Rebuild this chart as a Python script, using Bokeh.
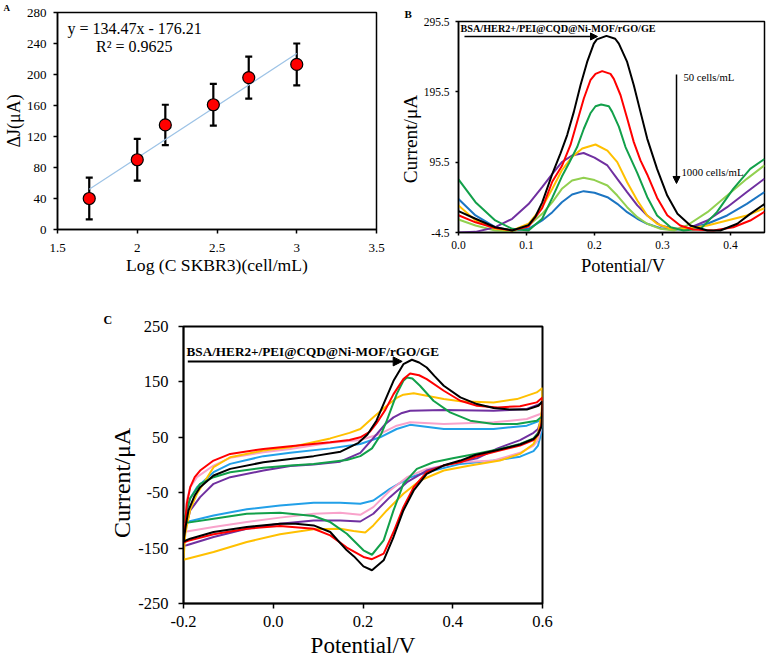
from bokeh.plotting import figure
from bokeh.layouts import column, row
from bokeh.models import (ColumnDataSource, Whisker, TeeHead, Label, Arrow, NormalHead,
                          FixedTicker, Spacer)
from bokeh.embed import file_html
from bokeh.resources import INLINE

FONT = "Liberation Serif"
NB = "\u00a0"

# ---------------- Panel A data ----------------
a_x = [1.699, 2.0, 2.176, 2.477, 2.699, 3.0]
a_y = [40, 90, 135, 161, 196, 213]
a_err = [27, 27, 26, 27, 27, 27]
a_trend_x = [1.699, 3.0]
a_trend_y = [52, 227]
a_xticks = [1.5, 2.0, 2.5, 3.0, 3.5]
a_xtick_labels = ["1.5", "2", "2.5", "3", "3.5"]
a_yticks = [0, 40, 80, 120, 160, 200, 240, 280]

# ---------------- Panel B data (DPV) ----------------
b_black_v = [0.0, 0.025, 0.054, 0.079, 0.103, 0.113, 0.123, 0.138, 0.15, 0.1598, 0.1696, 0.1794, 0.1892, 0.199, 0.2035, 0.2176, 0.2304, 0.2358, 0.248, 0.2578, 0.2676, 0.2775, 0.292, 0.307, 0.322, 0.341, 0.366, 0.385, 0.41, 0.429, 0.45]
b_black_i = [26, 15, 3, -1.7, 6, 18, 38, 79, 108, 134, 167, 205, 238, 264, 270, 275, 271, 264, 238, 205, 167, 129, 86, 48, 22, 5.5, -1.7, -1.7, 8, 22, 36]
b_red_v = [0.0, 0.025, 0.054, 0.079, 0.103, 0.123, 0.138, 0.152, 0.1647, 0.1745, 0.1843, 0.194, 0.2015, 0.2113, 0.2235, 0.2284, 0.2382, 0.248, 0.2578, 0.2676, 0.2775, 0.292, 0.307, 0.326, 0.345, 0.375, 0.404, 0.429, 0.45]
b_red_i = [20, 10, 2, -1.5, 4, 30, 68, 90, 120, 153, 186, 212, 221, 225, 221, 214, 191, 158, 124, 98, 78, 45, 20, 5.5, -0.2, -1.7, 3, 12.5, 25]
b_green_v = [0.0, 0.025, 0.054, 0.079, 0.103, 0.123, 0.138, 0.152, 0.163, 0.1745, 0.1843, 0.194, 0.2015, 0.2098, 0.2211, 0.226, 0.2358, 0.2456, 0.263, 0.2775, 0.292, 0.312, 0.331, 0.356, 0.38, 0.404, 0.429, 0.45]
b_green_i = [71, 38.6, 12.6, 0.7, -1.7, 15, 45, 75, 95, 117, 143, 165, 175, 177.5, 175, 167, 146, 117, 80, 46, 19.7, 3, -1.7, 0.7, 24.4, 57.6, 86, 100]
b_yellow_v = [0.0, 0.025, 0.054, 0.079, 0.103, 0.123, 0.138, 0.152, 0.167, 0.182, 0.2015, 0.219, 0.2335, 0.248, 0.263, 0.2775, 0.292, 0.312, 0.336, 0.366, 0.395, 0.424, 0.45]
b_yellow_i = [34, 12.6, 0.7, -1.7, 7.9, 31.5, 57.6, 84, 103, 115, 120.6, 112, 95.5, 67, 41, 19.7, 7.9, 0.7, 0.7, 5.5, 12.6, 19.7, 30]
b_purple_v = [0.0, 0.025, 0.054, 0.079, 0.103, 0.123, 0.138, 0.152, 0.167, 0.184, 0.2, 0.219, 0.2335, 0.248, 0.263, 0.2775, 0.297, 0.317, 0.336, 0.366, 0.395, 0.424, 0.45]
b_purple_i = [-4.5, -3.6, 3, 15, 36, 60, 79, 95.5, 105, 108.5, 102, 90.8, 71.8, 53, 34, 19.7, 5.5, 0.7, 0.7, 12.6, 31.5, 53, 72]
b_lgreen_v = [0.0, 0.025, 0.054, 0.079, 0.103, 0.123, 0.138, 0.152, 0.167, 0.184, 0.2, 0.219, 0.2335, 0.248, 0.263, 0.2775, 0.297, 0.317, 0.336, 0.366, 0.395, 0.424, 0.45]
b_lgreen_i = [14, 5.5, -1.7, -3, 5.5, 22, 38.6, 57.6, 69.5, 73.3, 70, 62.3, 48, 31.5, 17.3, 7.9, 0.7, -1.7, 5.5, 24.4, 48, 71.8, 91]
b_blue_v = [0.0, 0.025, 0.054, 0.079, 0.103, 0.123, 0.138, 0.152, 0.167, 0.184, 0.2, 0.219, 0.2335, 0.248, 0.263, 0.2775, 0.297, 0.317, 0.336, 0.366, 0.395, 0.424, 0.45]
b_blue_i = [43, 19.7, 3, -1.7, 0.7, 12.6, 24.4, 38.6, 49.5, 54.3, 52, 45.7, 36.3, 24.4, 15, 7.9, 1.7, -0.7, 0.7, 7.9, 19.7, 36.3, 53]
b_yticks = [-4.5, 95.5, 195.5, 295.5]
b_ytick_labels = ["-4.5", "95.5", "195.5", "295.5"]
b_xticks = [0.0, 0.1, 0.2, 0.3, 0.4]
b_xtick_labels = ["0.0", "0.1", "0.2", "0.3", "0.4"]

# ---------------- Panel C data (CV loops) ----------------
c_black_v = [-0.2, -0.195, -0.189, -0.175, -0.163, -0.133, -0.096, -0.022, 0.038, 0.09, 0.15, 0.19, 0.21, 0.23, 0.25, 0.268, 0.29, 0.309, 0.325, 0.342, 0.36, 0.38, 0.417, 0.454, 0.491, 0.528, 0.565, 0.591, 0.6,
             0.598, 0.59, 0.58, 0.55, 0.5, 0.45, 0.417, 0.379, 0.342, 0.313, 0.29, 0.268, 0.246, 0.22, 0.201, 0.18, 0.164, 0.127, 0.09, 0.05, 0.015, -0.059, -0.133, -0.185, -0.2]
c_black_i = [-138, -110, -82, -55, -40, -19, -7, 5, 11, 16, 24, 40, 55, 80, 118, 152, 182, 190, 185, 176, 160, 143, 122, 110, 103, 100, 100, 107, 115,
             70, 55, 47, 37, 27, 18, 8, -1, -16, -46, -82, -130, -172, -190, -183, -165, -154, -121, -109, -106, -106, -112, -121, -133, -138]
c_red_v = [-0.2, -0.196, -0.1926, -0.185, -0.175, -0.163, -0.133, -0.096, -0.022, 0.038, 0.127, 0.17, 0.194, 0.215, 0.23, 0.25, 0.268, 0.29, 0.305, 0.325, 0.342, 0.38, 0.417, 0.454, 0.5, 0.55, 0.587, 0.6,
           0.598, 0.59, 0.58, 0.55, 0.5, 0.45, 0.417, 0.379, 0.342, 0.313, 0.29, 0.268, 0.246, 0.22, 0.201, 0.164, 0.127, 0.09, 0.015, -0.059, -0.133, -0.19, -0.2]
c_red_i = [-140, -105, -70, -40, -22, -10, 8, 20, 29, 34, 41, 45, 50, 60, 75, 100, 128, 155, 165, 162, 155, 134, 116, 107, 104, 106, 113, 122,
           75, 55, 45, 35, 25, 15, 5, -1, -13, -40, -76, -121, -160, -170, -166, -149, -127, -115, -110, -115, -125, -137, -140]
c_green_v = [-0.2, -0.1926, -0.185, -0.163, -0.133, -0.096, -0.022, 0.038, 0.09, 0.164, 0.194, 0.22, 0.24, 0.253, 0.275, 0.29, 0.2978, 0.31, 0.327, 0.357, 0.394, 0.439, 0.491, 0.543, 0.587, 0.6,
             0.598, 0.59, 0.58, 0.55, 0.5, 0.45, 0.4, 0.357, 0.32, 0.29, 0.268, 0.246, 0.22, 0.201, 0.164, 0.127, 0.09, 0.015, -0.059, -0.133, -0.19, -0.2]
c_green_i = [-103, -80, -60, -34, -22, -13, -5, -1, 2, 9, 16, 30, 55, 80, 128, 152, 158, 156, 143, 116, 95, 80, 74, 74, 80, 88,
             70, 58, 48, 38, 28, 20, 12, 5, -7, -34, -82, -136, -162, -154, -124, -103, -92, -86, -88, -97, -104, -103]
c_yellow_v = [-0.2, -0.196, -0.185, -0.17, -0.133, -0.096, -0.022, 0.038, 0.127, 0.17, 0.194, 0.223, 0.253, 0.275, 0.29, 0.313, 0.342, 0.38, 0.417, 0.491, 0.543, 0.587, 0.6,
              0.598, 0.59, 0.58, 0.55, 0.505, 0.439, 0.38, 0.327, 0.29, 0.253, 0.223, 0.205, 0.179, 0.149, 0.09, 0.015, -0.059, -0.133, -0.2]
c_yellow_i = [-171, -124, -80, -52, -4, 14, 26, 32, 48, 58, 65, 86, 107, 121, 127, 129.5, 125, 119, 115, 113, 119, 131, 139,
              95, 55, 38, 20, 8, -1, -10, -28, -52, -82, -109, -122, -119, -115, -116, -125, -139, -157, -171]
c_purple_v = [-0.2, -0.196, -0.185, -0.163, -0.133, -0.096, -0.022, 0.038, 0.09, 0.149, 0.194, 0.231, 0.25, 0.268, 0.287, 0.305, 0.38, 0.491, 0.565, 0.595, 0.6,
              0.598, 0.59, 0.58, 0.55, 0.5, 0.454, 0.394, 0.342, 0.298, 0.26, 0.223, 0.194, 0.149, 0.09, 0.015, -0.059, -0.133, -0.193, -0.2]
c_purple_i = [-146, -115, -82, -58, -34, -22, -10, -2, 1, 6, 22, 56, 74, 86, 94, 98, 99.5, 98, 101, 110, 116,
              85, 65, 58, 45, 30, 12, 2, -10, -31, -58, -88, -102, -100, -100, -106, -115, -130, -145, -146]
c_pink_v = [-0.2, -0.196, -0.1926, -0.185, -0.17, -0.133, -0.096, -0.022, 0.038, 0.127, 0.194, 0.238, 0.275, 0.305, 0.38, 0.491, 0.565, 0.595, 0.6,
            0.598, 0.59, 0.58, 0.55, 0.491, 0.417, 0.342, 0.298, 0.26, 0.223, 0.194, 0.149, 0.09, 0.015, -0.059, -0.133, -0.193, -0.2]
c_pink_i = [-117, -90, -64, -40, -22, -1, 13, 23, 29, 40, 45, 56, 71, 77, 74, 77, 83, 92, 97,
            70, 45, 35, 22, 8, 5, -7, -22, -46, -76, -90, -86, -88, -95, -103, -112, -120, -117]
c_blue_v = [-0.2, -0.196, -0.1926, -0.185, -0.17, -0.133, -0.096, -0.022, 0.038, 0.127, 0.194, 0.238, 0.275, 0.305, 0.38, 0.491, 0.565, 0.595, 0.6,
            0.598, 0.59, 0.58, 0.55, 0.491, 0.417, 0.342, 0.305, 0.26, 0.223, 0.194, 0.149, 0.09, 0.015, -0.059, -0.133, -0.193, -0.2]
c_blue_i = [-110, -100, -82, -60, -40, -13, 2, 16, 22, 30, 38, 50, 65, 72.5, 65, 65, 71, 80, 85,
            60, 35, 25, 15, 8, 2, -13, -22, -43, -64, -70, -68, -68, -73, -80, -91, -103, -110]
c_yticks = [-250, -150, -50, 50, 150, 250]
c_ytick_labels = ["-250", "-150", "-50", "50", "150", "250"]
c_xticks = [-0.2, 0.0, 0.2, 0.4, 0.6]
c_xtick_labels = ["-0.2", "0.0", "0.2", "0.4", "0.6"]

modified_label = "BSA/HER2+/PEI@CQD@Ni-MOF/rGO/GE"


def style(p, tick_size, xt_standoff, yt_standoff, tick_out):
    p.grid.visible = False
    p.outline_line_color = "black"
    p.outline_line_width = 1.5
    p.background_fill_color = "white"
    p.border_fill_color = "white"
    for ax in (p.xaxis[0], p.yaxis[0]):
        ax.axis_line_color = "black"
        ax.axis_line_width = 1.5
        ax.major_tick_line_color = "black"
        ax.major_tick_line_width = 1.5
        ax.major_tick_out = tick_out
        ax.major_tick_in = 0
        ax.minor_tick_line_color = None
        ax.major_label_text_font = FONT
        ax.major_label_text_font_size = tick_size
        ax.major_label_text_color = "black"
        ax.axis_label_text_font = FONT
        ax.axis_label_text_font_style = "normal"
        ax.axis_label_text_color = "black"
    p.xaxis[0].major_label_standoff = xt_standoff
    p.yaxis[0].major_label_standoff = yt_standoff


def axis_titles(p, xlabel, xsize, xstand, ylabel, ysize, ystand):
    p.xaxis[0].axis_label = xlabel
    p.xaxis[0].axis_label_text_font_size = xsize
    p.xaxis[0].axis_label_standoff = xstand
    p.yaxis[0].axis_label = ylabel
    p.yaxis[0].axis_label_text_font_size = ysize
    p.yaxis[0].axis_label_standoff = ystand


def panel_letter(p, letter, size, offset, standoff):
    p.title.text = letter
    p.title.align = "left"
    p.title.offset = offset
    p.title.standoff = standoff
    p.title.text_font = FONT
    p.title.text_font_size = size
    p.title.text_font_style = "bold"
    p.title.text_color = "black"


def lab(p, x, y, text, size, style_="normal"):
    p.add_layout(Label(x=x, y=y, text=text, text_font=FONT, text_font_size=size,
                       text_font_style=style_, text_align="left", text_baseline="middle",
                       text_color="black"))


# ---------------- Panel A ----------------
pA = figure(width=390, height=300, x_range=(1.5, 3.5), y_range=(0, 280),
            output_backend="svg", toolbar_location=None,
            min_border_left=54, min_border_right=14, min_border_top=9, min_border_bottom=71)
style(pA, "13px", 10, 7, 4)
axis_titles(pA, "Log (C SKBR3)(cell/mL)", "17.6px", 0, "ΔJ(μA)", "18px", 0)
panel_letter(pA, "A", "9px", -54, 0)
pA.xaxis[0].ticker = FixedTicker(ticks=a_xticks)
pA.xaxis[0].major_label_overrides = {t: s for t, s in zip(a_xticks, a_xtick_labels)}
pA.yaxis[0].ticker = FixedTicker(ticks=a_yticks)

pA.line(a_trend_x, a_trend_y, line_color="#9DC3E6", line_width=1.2)
srcA = ColumnDataSource(dict(x=a_x, y=a_y,
                             lo=[v - e for v, e in zip(a_y, a_err)],
                             hi=[v + e for v, e in zip(a_y, a_err)]))
pA.add_layout(Whisker(source=srcA, base="x", lower="lo", upper="hi", line_color="black", line_width=2.2,
                      lower_head=TeeHead(size=7, line_width=2.2, line_color="black"),
                      upper_head=TeeHead(size=7, line_width=2.2, line_color="black")))
pA.scatter("x", "y", source=srcA, size=12, fill_color="#FF0000", line_color="black", line_width=1.2)

lab(pA, 1.562, 259.6, "y = 134.47x - 176.21", "16px")
lab(pA, 1.742, 236.7, "R² = 0.9625", "16px")

# ---------------- Panel B ----------------
pB = figure(width=377, height=300, x_range=(0, 0.45), y_range=(-4.5, 295.5),
            output_backend="svg", toolbar_location=None,
            min_border_left=68, min_border_right=3, min_border_top=21, min_border_bottom=68)
style(pB, "11.5px", 5, 6, 3)
axis_titles(pB, NB * 5 + "Potential/V", "18.5px", 4, "Current/μA" + NB * 5, "19.3px", 0)
panel_letter(pB, "B", "11px", -54, 4)
pB.xaxis[0].ticker = FixedTicker(ticks=b_xticks)
pB.xaxis[0].major_label_overrides = {t: s for t, s in zip(b_xticks, b_xtick_labels)}
pB.yaxis[0].ticker = FixedTicker(ticks=b_yticks)
pB.yaxis[0].major_label_overrides = {t: s for t, s in zip(b_yticks, b_ytick_labels)}

for v, i, c in [(b_blue_v, b_blue_i, "#1C75C2"), (b_lgreen_v, b_lgreen_i, "#92D050"),
                (b_purple_v, b_purple_i, "#7030A0"), (b_yellow_v, b_yellow_i, "#FFC000"),
                (b_green_v, b_green_i, "#12A04A"), (b_red_v, b_red_i, "#FF0000"),
                (b_black_v, b_black_i, "#000000")]:
    pB.line(v, i, line_color=c, line_width=2)

lab(pB, 0.003, 284.9, modified_label, "10.2px", style_="bold")
pB.add_layout(Arrow(end=NormalHead(size=7, fill_color="black", line_color="black"),
                    x_start=0.0088, y_start=274.2, x_end=0.2044, y_end=274.2,
                    line_color="black", line_width=1.5))
pB.add_layout(Arrow(end=NormalHead(size=7, fill_color="black", line_color="black"),
                    x_start=0.3206, y_start=220.2, x_end=0.3206, y_end=65.2,
                    line_color="black", line_width=1.5))
lab(pB, 0.3309, 217.3, "50 cells/mL", "10.7px")
lab(pB, 0.3279, 82.2, "1000 cells/mL", "10.8px")

# ---------------- Panel C ----------------
pC = figure(width=470, height=360, x_range=(-0.2, 0.6), y_range=(-250, 250),
            output_backend="svg", toolbar_location=None,
            min_border_left=93, min_border_right=18, min_border_top=26, min_border_bottom=56)
style(pC, "16.5px", 7, 10, 5)
axis_titles(pC, "Potential/V", "23px", 3, "Current/μA" + NB * 6, "24px", 0)
panel_letter(pC, "C", "12px", -80, 0)
pC.outline_line_width = 2
pC.xaxis[0].ticker = FixedTicker(ticks=c_xticks)
pC.xaxis[0].major_label_overrides = {t: s for t, s in zip(c_xticks, c_xtick_labels)}
pC.yaxis[0].ticker = FixedTicker(ticks=c_yticks)
pC.yaxis[0].major_label_overrides = {t: s for t, s in zip(c_yticks, c_ytick_labels)}

for v, i, c in [(c_blue_v, c_blue_i, "#22A0E8"), (c_pink_v, c_pink_i, "#F9A3CB"),
                (c_purple_v, c_purple_i, "#7030A0"), (c_yellow_v, c_yellow_i, "#FFC000"),
                (c_green_v, c_green_i, "#12A04A"), (c_red_v, c_red_i, "#FF0000"),
                (c_black_v, c_black_i, "#000000")]:
    pC.line(v, i, line_color=c, line_width=2)

lab(pC, -0.1933, 204.1, modified_label, "13.2px", style_="bold")
pC.add_layout(Arrow(end=NormalHead(size=9, fill_color="black", line_color="black"),
                    x_start=-0.1904, y_start=187, x_end=0.2873, y_end=187,
                    line_color="black", line_width=2))

layout = column(row(column(pA), column(pB)), row(Spacer(width=90, height=360), pC))
open("out.html", "w").write(file_html(layout, INLINE))
